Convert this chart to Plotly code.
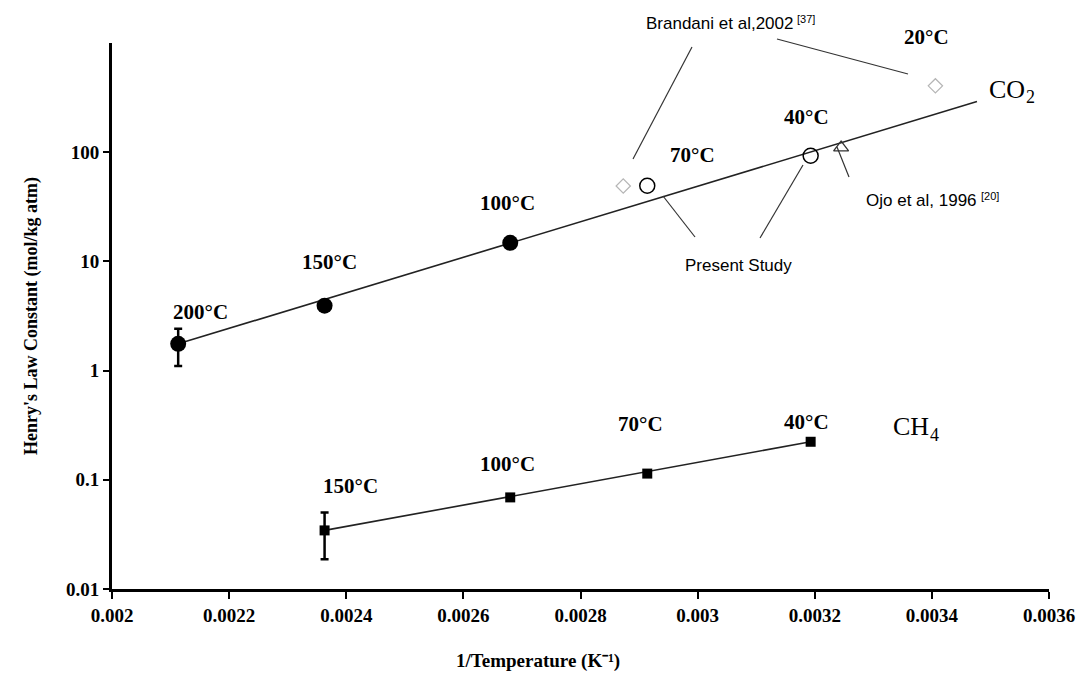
import plotly.graph_objects as go

# ---------------- data ----------------
co2_x = [0.002113, 0.002363, 0.002680]          # present study, filled circles
co2_y = [1.76, 3.93, 14.8]
co2_err = [0.66, 0.0, 0.0]
co2_open_x = [0.002914, 0.003193]               # present study, open circles
co2_open_y = [49.3, 92.7]
brandani_x = [0.002873, 0.003406]               # Brandani et al, 2002
brandani_y = [49.0, 405.0]
ojo_x = [0.003245]                              # Ojo et al, 1996
ojo_y = [110.0]
co2_fit_x = [0.002113, 0.003477]
co2_fit_y = [1.76, 291.0]

ch4_x = [0.002363, 0.002680, 0.002914, 0.003193]
ch4_y = [0.0344, 0.069, 0.114, 0.223]
ch4_err = [0.0157, 0.0, 0.0, 0.0]
ch4_fit_x = [0.002363, 0.003193]
ch4_fit_y = [0.0344, 0.223]

x_ticks = [0.002, 0.0022, 0.0024, 0.0026, 0.0028, 0.003, 0.0032, 0.0034, 0.0036]
x_tick_text = ["0.002", "0.0022", "0.0024", "0.0026", "0.0028", "0.003", "0.0032", "0.0034", "0.0036"]
y_ticks = [0.01, 0.1, 1, 10, 100]
y_tick_text = ["0.01", "0.1", "1", "10", "100"]

# ---------------- layout geometry ----------------
W, H = 1088, 679
L, R, T, B = 112, 39, 43, 90
PW, PH = W - L - R, H - T - B


def px(x):
    return (x - L) / PW


def py(y):
    return (H - B - y) / PH


SERIF = "Liberation Serif, Times New Roman, serif"
SANS = "Liberation Sans, Arial, sans-serif"

fig = go.Figure()

line_style = dict(color="#222222", width=1.6)

fig.add_trace(go.Scatter(x=co2_fit_x, y=co2_fit_y, mode="lines", line=line_style,
                         hoverinfo="skip", showlegend=False))
fig.add_trace(go.Scatter(x=ch4_fit_x, y=ch4_fit_y, mode="lines", line=line_style,
                         hoverinfo="skip", showlegend=False))

fig.add_trace(go.Scatter(
    x=co2_x, y=co2_y, mode="markers", showlegend=False,
    marker=dict(symbol="circle", size=16, color="black"),
    error_y=dict(type="data", array=co2_err, color="black", thickness=2.5, width=4)))
fig.add_trace(go.Scatter(
    x=co2_open_x, y=co2_open_y, mode="markers", showlegend=False,
    marker=dict(symbol="circle-open", size=15, color="black", line=dict(width=1.5))))
fig.add_trace(go.Scatter(
    x=brandani_x, y=brandani_y, mode="markers", showlegend=False,
    marker=dict(symbol="diamond-open", size=11, color="#b5b5b5", line=dict(width=1.2))))
fig.add_trace(go.Scatter(
    x=ojo_x, y=ojo_y, mode="markers", showlegend=False,
    marker=dict(symbol="triangle-up-open", size=13, color="#333333", line=dict(width=1.3))))
fig.add_trace(go.Scatter(
    x=ch4_x, y=ch4_y, mode="markers", showlegend=False,
    marker=dict(symbol="square", size=10, color="black"),
    error_y=dict(type="data", array=ch4_err, color="black", thickness=2.5, width=4)))

# ---------------- text labels ----------------
temp_labels = [
    ("200°C", 200, 312), ("150°C", 329, 262), ("100°C", 507, 203),
    ("70°C", 692, 155), ("40°C", 806, 117), ("20°C", 926, 37),
    ("150°C", 350, 486), ("100°C", 507, 464), ("70°C", 640, 424), ("40°C", 806, 422),
]
annotations = []
for t, x, y in temp_labels:
    annotations.append(dict(text="<b>" + t + "</b>", x=px(x), y=py(y), xref="paper", yref="paper",
                            showarrow=False, xanchor="center", yanchor="middle",
                            font=dict(family=SERIF, size=21, color="black")))


def txt(text, x, y, family, size, xanchor="center", bold=False):
    if bold:
        text = "<b>" + text + "</b>"
    return dict(text=text, x=px(x), y=py(y), xref="paper", yref="paper", showarrow=False,
                xanchor=xanchor, yanchor="middle", font=dict(family=family, size=size, color="black"))


annotations += [
    txt("CO", 1027, 89, SERIF, 26, "right"),
    txt("2", 1024, 97, SERIF, 18, "left"),
    txt("CH", 931, 427, SERIF, 26, "right"),
    txt("4", 928, 435, SERIF, 18, "left"),
    txt("Brandani et al,2002", 795, 24, SANS, 17, "right"),
    txt("[37]", 795, 19, SANS, 11, "left"),
    txt("Ojo et al, 1996", 979, 201, SANS, 17, "right"),
    txt("[20]", 979, 196, SANS, 11, "left"),
    txt("Present Study", 738, 265, SANS, 17),
    txt("1/Temperature (K⁻¹)", 538, 661, SERIF, 19, bold=True),
]

leaders = [
    ((692, 47), (633, 159)),
    ((777, 39), (908, 74)),
    ((663, 196), (695, 237)),
    ((803, 165), (760, 238)),
    ((837, 147), (849, 177)),
]
shapes = []
for (x0, y0), (x1, y1) in leaders:
    shapes.append(dict(type="line", xref="paper", yref="paper",
                       x0=px(x0), y0=py(y0), x1=px(x1), y1=py(y1),
                       line=dict(color="#333333", width=1.2)))

fig.update_layout(
    width=W, height=H,
    margin=dict(l=L, r=R, t=T, b=B),
    paper_bgcolor="white", plot_bgcolor="white",
    showlegend=False,
    annotations=annotations,
    shapes=shapes,
    xaxis=dict(
        range=[0.002, 0.0036], tickmode="array", tickvals=x_ticks,
        ticktext=["<b>" + t + "</b>" for t in x_tick_text],
        showgrid=False, zeroline=False, showline=True, linecolor="black", linewidth=3,
        ticks="outside", ticklen=7, tickwidth=2, tickcolor="black",
        tickfont=dict(family=SERIF, size=19, color="black"),
    ),
    yaxis=dict(
        type="log", range=[-2, 3], tickmode="array", tickvals=y_ticks,
        ticktext=["<b>" + t + "</b>" for t in y_tick_text],
        showgrid=False, zeroline=False, showline=True, linecolor="black", linewidth=3,
        ticks="outside", ticklen=6, tickwidth=2, tickcolor="black",
        tickfont=dict(family=SERIF, size=19, color="black"),
        title=dict(text="<b>Henry's Law Constant (mol/kg atm)</b>", standoff=24,
                   font=dict(family=SERIF, size=18, color="black")),
    ),
)

fig.write_html("out.html")
